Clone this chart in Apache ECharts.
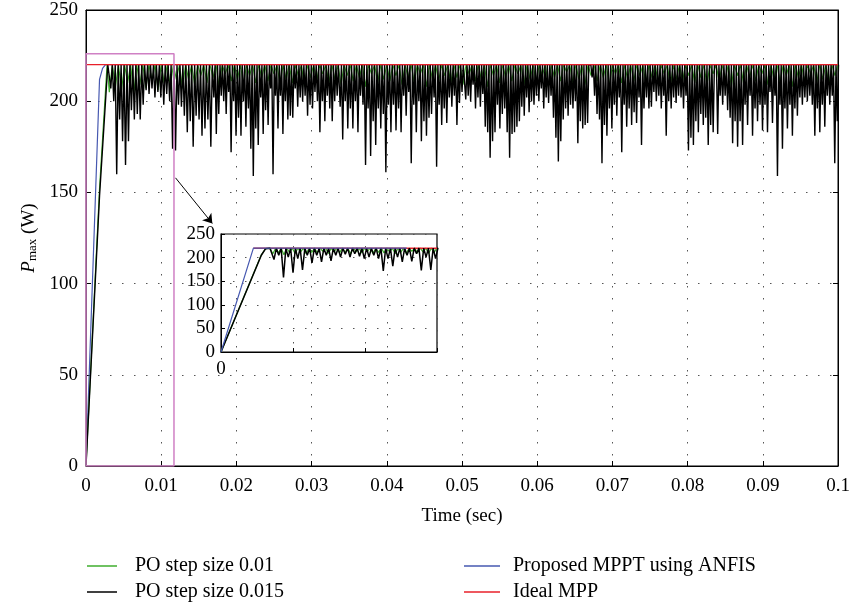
<!DOCTYPE html>
<html><head><meta charset="utf-8">
<script src="https://cdn.jsdelivr.net/npm/echarts/dist/echarts.min.js"></script>
<style>html,body{margin:0;padding:0;background:#fff}#c{width:853px;height:603px}</style>
</head><body><div id="c"></div>
<script>
// ---------- data ----------
const xTickLabels = ['0','0.01','0.02','0.03','0.04','0.05','0.06','0.07','0.08','0.09','0.1'];
const yTickLabels = ['0','50','100','150','200','250'];
const idealMPP = 220;
const mainRed = [[0,220],[0.1,220]];
const blueRamp = [[0,0],[0.0018,212],[0.0022,218],[0.0026,220],[0.1,220]];
const blackRamp = [[0,0],[0.0018,148],[0.0029,220]];
const greenRamp = [[0,0],[0.0018,152],[0.0028,220]];

// black (PO step 0.015) dip minima, in six time windows
const blackSegStart = [0.0033,0.0170,0.0338,0.0505,0.0673,0.0840];
const blackSegEnd   = [0.0166,0.0334,0.0500,0.0667,0.0834,0.0999];
const blackDips1 = [207,200,160,190,178,165,178,195,190,193,190,198,206,204,207,202,205,202,198,204,200,174,173,198,197,192,183,189,175,192,190,181,185,190,175];
const blackDips2 = [202,182,193,203,200,193,205,172,200,181,191,181,200,186,196,174,159,185,176,202,182,195,187,207,160,203,185,203,182,200,190,192,191,207,197,202,200,203,192,198,196,205,200,183,200,189,203,196,189,200,203];
const blackDips3 = [197,179,200,185,196,185,200,183,203,198,165,196,170,189,176,196,185,193,161,198,183,198,184,196,183,203,192,205,166,198,183,200,178,189,181,191,193,202,164,198,187,196,188,202,197,203,187,199,205];
const blackDips4 = [201,203,200,209,196,202,197,204,186,183,169,178,183,198,185,193,196,183,169,182,183,186,189,197,192,202,194,200,198,203,200,207,196,202,199,203,191,180,167,178,190,196,192,198,196,200,177,189,185,187,188];
const blackDips5 = [213,203,193,190,166,187,181,196,185,198,192,202,172,198,186,196,187,194,188,202,176,196,202,196,197,205,200,203,196,203,181,200,196,202,199,203,202,196,203,173,180,176,189,183,193,187,191,176,187,183];
const blackDips6 = [182,203,198,203,195,191,177,189,175,189,176,198,187,203,181,196,189,198,184,198,183,205,188,203,159,198,174,196,185,198,181,196,192,202,198,202,200,203,198,181,196,183,198,186,203,198,203,166,189];

// green (PO step 0.01) shallow dips
const greenStart = 0.0031, greenEnd = 0.0996;
const greenDips = [205,208,206,210,204,209,207,211,206,210,208,212,207,212,209,214,210,213,208,215,211,212,209,214,210,213,211,215,209,212,210,214,208,213,211,215,210,212,209,214,211,213,208,215,210,212,211,214,209,213,210,215,208,212,211,214,210,213,209,215,211,212,208,214,210,213,211,215,209,212,210,214,208,213,211,216,210,212,209,214,211,213,208,215,210,212,211,214,209,213,210,215,208,212,211,214,210,213,209,215,211,212,208,214,210,213,211,215,209,212,210,214,208,213,211,215,210,212,209,214];

// zoom box & arrow (data coordinates)
const zoomBox = [[0,0],[0,226],[0.0117,226],[0.0117,0],[0,0]];
const arrowFrom = [0.0119,158], arrowTo = [0.0168,133];

// inset
const insetXLabels = ['0','','',''];
const insetBlueRamp = [[0,0],[0.00225,220],[0.0129,220]];
const insetRed = [[0.00225,220],[0.015,220]];
const insetBlackRamp = [[0,0],[0.0028,205],[0.0031,219],[0.0034,220]];
const insetGreenRamp = [[0,0],[0.0028,206],[0.0031,219],[0.0034,220]];
const insetDipStart = 0.00368, insetDipEnd = 0.0149;
const insetBlackDips = [196,205,158,201,168,198,174,205,189,205,191,205,193,205,201,207,201,208,203,198,201,205,198,172,198,182,201,191,205,192,208,173,201,174,198];
const insetGreenStart = 0.0036, insetGreenEnd = 0.0148;
const insetGreenDips = [208,210,206,211,209,212,208,211,210,213,209,212,210,211,208,212,210,213,209,211,210,212,208,211,209,213,210,212,209,211];

// ---------- build ----------
function spikes(start, end, values, top) {
  const out = [];
  const n = values.length;
  const dt = (end - start) / (n - 1);
  for (let i = 0; i < n; i++) {
    const t = start + i * dt;
    out.push([t - dt / 2, top]);
    out.push([t, values[i]]);
  }
  out.push([end + dt / 2, top]);
  return out;
}
const blackSegs = [blackDips1,blackDips2,blackDips3,blackDips4,blackDips5,blackDips6];
let blackMain = blackRamp.slice();
blackSegs.forEach((d,i)=>{ blackMain = blackMain.concat(spikes(blackSegStart[i], blackSegEnd[i], d, idealMPP)); });
blackMain.push([0.1, idealMPP]);
const greenMain = greenRamp.concat(spikes(greenStart, greenEnd, greenDips, idealMPP)).concat([[0.1, idealMPP]]);
const insetBlack = insetBlackRamp.concat(spikes(insetDipStart, insetDipEnd, insetBlackDips, idealMPP)).concat([[0.015, idealMPP]]);
const insetGreen = insetGreenRamp.concat(spikes(insetGreenStart, insetGreenEnd, insetGreenDips, idealMPP)).concat([[0.015, idealMPP]]);

const FONT = 'Liberation Serif';
const FS = 19;
const GREEN = '#3fae2e', BLACK = '#000000', BLUE = '#4658b0', RED = '#e8202a', PINK = '#cf80c4';
const dotted = {show:true, lineStyle:{color:'#555', type:[1.5,10.5], width:1}};
const tickIn = {show:true, inside:true, length:5, lineStyle:{color:'#000'}};
const axLine = {show:true, onZero:false, lineStyle:{color:'#000', width:1}};

const chart = echarts.init(document.getElementById('c'), null, {renderer:'canvas'});
const option = {
  animation:false,
  backgroundColor:'#fff',
  grid:[
    {left:86, top:10, width:752, height:456, show:true, borderColor:'#000', borderWidth:1, backgroundColor:'transparent'},
    {left:221, top:234, width:216, height:118, show:true, borderColor:'#000', borderWidth:1.2, backgroundColor:'transparent'}
  ],
  xAxis:[
    {type:'value', gridIndex:0, min:0, max:0.1, interval:0.01, axisLine:axLine, axisTick:tickIn,
     axisLabel:{margin:11, color:'#000', fontFamily:FONT, fontSize:FS, formatter:v=>xTickLabels[Math.round(v/0.01)]},
     splitLine:dotted, name:'Time (sec)', nameLocation:'middle', nameGap:41,
     nameTextStyle:{color:'#000', fontFamily:FONT, fontSize:FS}},
    {type:'value', gridIndex:0, position:'top', min:0, max:0.1, interval:0.01, axisLine:axLine, axisTick:tickIn,
     axisLabel:{show:false}, splitLine:{show:false}},
    {type:'value', gridIndex:1, min:0, max:0.015, interval:0.005, axisLine:axLine, axisTick:{show:true, inside:true, length:4, lineStyle:{color:'#000'}},
     axisLabel:{margin:8, color:'#000', fontFamily:FONT, fontSize:FS, formatter:v=>insetXLabels[Math.round(v/0.005)]},
     splitLine:dotted}
  ],
  yAxis:[
    {type:'value', gridIndex:0, min:0, max:250, interval:50, axisLine:axLine, axisTick:tickIn,
     axisLabel:{margin:8, color:'#000', fontFamily:FONT, fontSize:FS, formatter:v=>yTickLabels[Math.round(v/50)]},
     splitLine:dotted, name:'{i|P}{s|max}{n| (W)}', nameLocation:'middle', nameGap:45,
     nameTextStyle:{color:'#000', fontFamily:FONT, fontSize:FS,
       rich:{i:{fontFamily:FONT, fontSize:FS, fontStyle:'italic', color:'#000'},
             s:{fontFamily:FONT, fontSize:13, color:'#000', padding:[7,0,0,0]},
             n:{fontFamily:FONT, fontSize:FS, color:'#000'}}}},
    {type:'value', gridIndex:0, position:'right', min:0, max:250, interval:50, axisLine:axLine, axisTick:tickIn,
     axisLabel:{show:false}, splitLine:{show:false}},
    {type:'value', gridIndex:1, min:0, max:250, interval:50, axisLine:axLine, axisTick:{show:true, inside:true, length:4, lineStyle:{color:'#000'}},
     axisLabel:{margin:6, color:'#000', fontFamily:FONT, fontSize:FS, formatter:v=>yTickLabels[Math.round(v/50)]},
     splitLine:dotted}
  ],
  legend:[
    {data:['PO step size 0.01','PO step size 0.015'], orient:'vertical', left:87, top:556, padding:0, itemGap:6, height:60,
     icon:'rect', itemWidth:30, itemHeight:1.5, textStyle:{fontFamily:FONT, fontSize:20, lineHeight:20, color:'#000', padding:[0,0,0,13]}},
    {data:['Proposed MPPT using ANFIS','Ideal MPP'], orient:'vertical', left:464, top:556, padding:0, itemGap:6, height:60,
     icon:'rect', itemWidth:36, itemHeight:1.5, textStyle:{fontFamily:FONT, fontSize:20, lineHeight:20, color:'#000', padding:[0,0,0,8]}}
  ],
  series:[
    {name:'Proposed MPPT using ANFIS', type:'line', xAxisIndex:0, yAxisIndex:0, data:blueRamp, showSymbol:false, lineStyle:{color:BLUE, width:1.2}, itemStyle:{color:BLUE}, z:2},
    {name:'PO step size 0.01', type:'line', xAxisIndex:0, yAxisIndex:0, data:greenMain, showSymbol:false, lineStyle:{color:GREEN, width:1.2}, itemStyle:{color:GREEN}, z:3},
    {name:'PO step size 0.015', type:'line', xAxisIndex:0, yAxisIndex:0, data:blackMain, showSymbol:false, lineStyle:{color:BLACK, width:1.4}, itemStyle:{color:BLACK}, z:4},
    {name:'Ideal MPP', type:'line', xAxisIndex:0, yAxisIndex:0, data:mainRed, showSymbol:false, lineStyle:{color:RED, width:1.2}, itemStyle:{color:RED}, z:5},
    {name:'zoomBox', type:'line', xAxisIndex:0, yAxisIndex:0, data:zoomBox, showSymbol:false, lineStyle:{color:PINK, width:1.5}, z:6,
     markLine:{silent:true, symbol:['none','arrow'], symbolSize:9, label:{show:false}, lineStyle:{color:'#000', width:1, type:'solid'},
       data:[[{coord:arrowFrom},{coord:arrowTo}]]}},
    {name:'PO step size 0.01', type:'line', xAxisIndex:2, yAxisIndex:2, data:insetGreen, showSymbol:false, lineStyle:{color:GREEN, width:1.2}, itemStyle:{color:GREEN}, z:7},
    {name:'Ideal MPP', type:'line', xAxisIndex:2, yAxisIndex:2, data:insetRed, showSymbol:false, lineStyle:{color:RED, width:1.5}, itemStyle:{color:RED}, z:8},
    {name:'PO step size 0.015', type:'line', xAxisIndex:2, yAxisIndex:2, data:insetBlack, showSymbol:false, lineStyle:{color:BLACK, width:1.5}, itemStyle:{color:BLACK}, z:9},
    {name:'Proposed MPPT using ANFIS', type:'line', xAxisIndex:2, yAxisIndex:2, data:insetBlueRamp, showSymbol:false, lineStyle:{color:BLUE, width:1.2}, itemStyle:{color:BLUE}, z:10}
  ]
};
chart.setOption(option);
</script></body></html>
